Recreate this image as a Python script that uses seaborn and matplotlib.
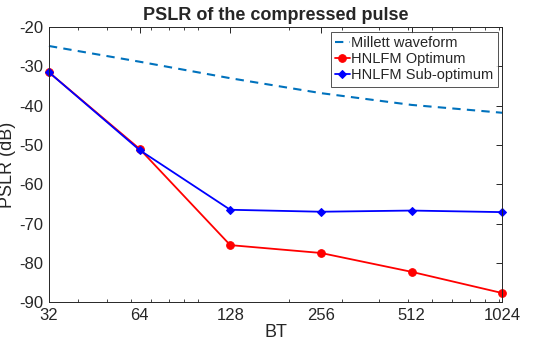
import matplotlib
matplotlib.use("Agg")
import matplotlib.pyplot as plt
import seaborn as sns
import pandas as pd
import numpy as np
from matplotlib.ticker import FixedLocator, NullFormatter

bt = [32, 64, 128, 256, 512, 1024]
millett = [-24.8, -28.8, -33.0, -36.8, -39.8, -41.8]
optimum = [-31.5, -51.0, -75.5, -77.5, -82.3, -87.7]
suboptimum = [-31.5, -51.3, -66.5, -67.0, -66.7, -67.1]
xticklabels = ["32", "64", "128", "256", "512", "1024"]

sns.set_theme(style="white")
plt.rcParams['font.family'] = ['Liberation Sans', 'DejaVu Sans']

fig = plt.figure(figsize=(5.5, 3.48), dpi=100)
ax = fig.add_axes([0.089, 0.132, 0.824, 0.790])

df_m = pd.DataFrame({"BT": bt, "PSLR": millett})
df_o = pd.DataFrame({"BT": bt, "PSLR": optimum})
df_s = pd.DataFrame({"BT": bt, "PSLR": suboptimum})

sns.lineplot(data=df_m, x="BT", y="PSLR", ax=ax, color="#0072BD", lw=1.5,
             linestyle=(0, (4, 3)), label="Millett waveform", clip_on=False)
sns.lineplot(data=df_o, x="BT", y="PSLR", ax=ax, color="#FF0000", lw=1.3,
             marker="o", markersize=5.5, markeredgecolor="#FF0000",
             label="HNLFM Optimum", clip_on=False)
sns.lineplot(data=df_s, x="BT", y="PSLR", ax=ax, color="#0000FF", lw=1.3,
             marker="D", markersize=4, markeredgecolor="#0000FF",
             label="HNLFM Sub-optimum", clip_on=False)

ax.set_xscale("log", base=2)
ax.set_xlim(32, 1024)
ax.set_ylim(-90, -20)
ax.set_xticks(bt)
ax.set_xticklabels(xticklabels)
minor = [40, 50, 60, 70, 80, 90, 100, 200, 300, 400, 500, 600, 700, 800, 900, 1000]
ax.xaxis.set_minor_locator(FixedLocator(minor))
ax.xaxis.set_minor_formatter(NullFormatter())
ax.set_yticks(np.arange(-90, -19, 10))
ax.set_yticklabels([str(v) for v in range(-90, -19, 10)])

ax.tick_params(axis="both", which="major", direction="in", length=4, width=0.7,
               top=True, right=True, labelsize=12, colors="#262626", pad=4)
ax.tick_params(axis="x", which="minor", direction="in", length=2, width=0.6,
               top=True, bottom=True)
for sp in ax.spines.values():
    sp.set_color("#262626")
    sp.set_linewidth(0.7)

ax.set_xlabel("BT", fontsize=13, labelpad=1, color="#262626")
ax.set_ylabel("PSLR (dB)", fontsize=13, labelpad=2, color="#262626")
ax.set_title("PSLR of the compressed pulse", fontsize=13, fontweight="bold", pad=5)

leg = ax.legend(loc="upper right", fontsize=10.5, frameon=True, fancybox=False,
                edgecolor="#262626", handlelength=1.0, handletextpad=0.1,
                borderpad=0.3, labelspacing=0.15, borderaxespad=0.3)
leg.get_frame().set_linewidth(0.7)

fig.savefig("out.png", dpi=100)
